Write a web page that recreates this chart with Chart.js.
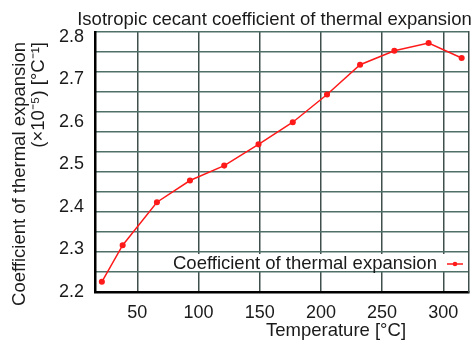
<!DOCTYPE html>
<html>
<head>
<meta charset="utf-8">
<script src="https://cdn.jsdelivr.net/npm/chart.js@4"></script>
<style>
  body { margin: 0; background: #fff; }
  #wrap { width: 475px; height: 341px; }
</style>
</head>
<body>
<div id="wrap"><canvas id="chart"></canvas></div>
<script>
const temps = [21, 38, 66, 93, 121, 149, 177, 205, 232, 260, 288, 315]
const cte = [2.224, 2.310, 2.411, 2.462, 2.497, 2.547, 2.599, 2.664, 2.734, 2.767, 2.785, 2.750]
const xTicks = [50, 100, 150, 200, 250, 300]
const yTicks = [2.2, 2.3, 2.4, 2.5, 2.6, 2.7, 2.8]

const titleText = "Isotropic cecant coefficient of thermal expansion"
const yTitle = ["Coefficient of thermal expansion", "(×10⁻⁵) [°C⁻¹]"]
const xTitle = "Temperature [°C]"
const seriesLabel = "Coefficient of thermal expansion"

const font = '"Liberation Sans", Arial, sans-serif'
const textColor = "#1a1a1a"
const red = "#ff1a1a"

// titles and the in-plot legend, placed like the original
const annotations = {
   id: "annotations",
   afterDraw(chart) {
      const { ctx, chartArea: a } = chart
      ctx.save()
      ctx.fillStyle = textColor
      ctx.font = "18.5px " + font
      ctx.textAlign = "center"
      ctx.textBaseline = "alphabetic"
      ctx.fillText(titleText, 274.5, 25)
      ctx.fillText(xTitle, 336, 336)

      ctx.textAlign = "right"
      ctx.textBaseline = "middle"
      const xs = [19.5, 38.5]
      yTitle.forEach((line, i) => {
         ctx.save()
         ctx.translate(xs[i], 42)
         ctx.rotate(-Math.PI / 2)
         ctx.fillText(line, 0, 0)
         ctx.restore()
      })

      // legend box
      ctx.fillStyle = "#fff"
      ctx.fillRect(170, 254, a.right - 171, 17)
      ctx.fillStyle = textColor
      ctx.textAlign = "left"
      ctx.textBaseline = "alphabetic"
      ctx.fillText(chart.data.datasets[0].label, 173, 268.5)
      ctx.strokeStyle = red
      ctx.lineWidth = 1.5
      ctx.beginPath()
      ctx.moveTo(447, 264)
      ctx.lineTo(463, 264)
      ctx.stroke()
      ctx.fillStyle = red
      ctx.beginPath()
      ctx.arc(455, 264, 2.3, 0, Math.PI * 2)
      ctx.fill()
      ctx.restore()
   }
}

new Chart(document.getElementById("chart"), {
   type: "line",
   data: {
      datasets: [{
         label: seriesLabel,
         data: temps.map((t, i) => ({ x: t, y: cte[i] })),
         borderColor: red,
         backgroundColor: red,
         borderWidth: 1.5,
         pointRadius: 2.3,
         pointHoverRadius: 3,
         tension: 0,
      }]
   },
   options: {
      responsive: true,
      maintainAspectRatio: false,
      animation: false,
      layout: { padding: { left: 55, top: 32, right: 6, bottom: 0 } },
      plugins: {
         legend: { display: false },
         title: { display: false },
         tooltip: { enabled: false },
      },
      scales: {
         x: {
            type: "linear",
            min: 15.4,
            max: 321,
            afterBuildTicks: s => { s.ticks = xTicks.map(v => ({ value: v })) },
            afterFit: s => { s.height = 49 },
            grid: { color: "#3f4f4c", lineWidth: 1.5, drawTicks: false },
            border: { display: true, color: "#000", width: 2.5 },
            ticks: { color: textColor, padding: 10, font: { size: 18, family: font } },
         },
         y: {
            min: 2.2,
            max: 2.811,
            afterBuildTicks: s => { s.ticks = yTicks.map(v => ({ value: v })) },
            afterFit: s => { s.width = 40 },
            grid: { display: false, drawTicks: false },
            border: { display: true, color: "#000", width: 2.5 },
            ticks: { color: textColor, padding: 11, font: { size: 18, family: font },
               callback: v => v.toFixed(1) },
         },
         g: {
            position: "right",
            min: 0,
            max: 13,
            afterBuildTicks: s => {
               s.ticks = Array.from({ length: 14 }, (_, k) => ({ value: k }))
            },
            afterFit: s => { s.width = 0 },
            grid: { color: "#4f6f69", lineWidth: 1.5, drawTicks: false },
            border: { display: true, color: "#3f4f4c", width: 1.5 },
            ticks: { display: false },
         }
      }
   },
   plugins: [annotations]
})
</script>
</body>
</html>
